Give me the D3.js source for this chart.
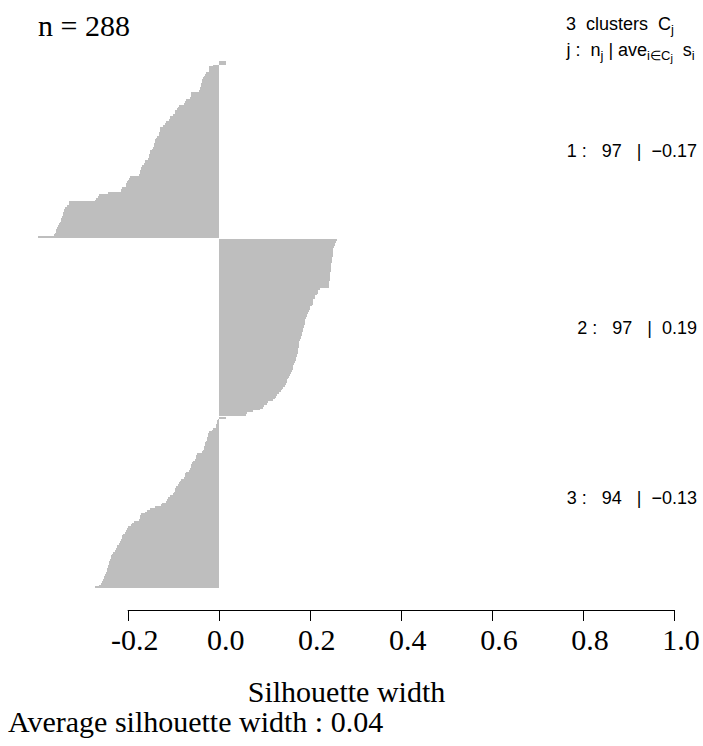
<!DOCTYPE html>
<html>
<head>
<meta charset="utf-8">
<script src="https://cdn.jsdelivr.net/npm/d3@7"></script>
<style>
  html, body { margin: 0; padding: 0; background: #fff; }
  svg { display: block; }
  text { white-space: pre; }
</style>
</head>
<body>
<script>
// ---------- data ----------
const clusterIds = [1, 2, 3];
const clusterAverages = ["\u22120.17", "0.19", "\u22120.13"];
const cluster1 = [0.017, 0.015, -0.012, -0.021, -0.021, -0.022, -0.028, -0.030, -0.032, -0.034,
  -0.036, -0.037, -0.040, -0.040, -0.041, -0.042, -0.043, -0.060, -0.061, -0.062,
  -0.063, -0.072, -0.074, -0.076, -0.088, -0.090, -0.092, -0.096, -0.097, -0.100,
  -0.106, -0.107, -0.109, -0.115, -0.118, -0.122, -0.128, -0.129, -0.130, -0.131,
  -0.132, -0.136, -0.138, -0.140, -0.141, -0.142, -0.143, -0.144, -0.146, -0.151,
  -0.152, -0.153, -0.154, -0.156, -0.162, -0.163, -0.165, -0.169, -0.170, -0.171,
  -0.172, -0.173, -0.175, -0.195, -0.197, -0.199, -0.202, -0.203, -0.204, -0.213,
  -0.214, -0.215, -0.243, -0.262, -0.265, -0.270, -0.272, -0.329, -0.330, -0.333,
  -0.338, -0.339, -0.341, -0.342, -0.343, -0.345, -0.346, -0.347, -0.348, -0.350,
  -0.353, -0.355, -0.357, -0.358, -0.360, -0.362, -0.397];
const cluster2 = [0.259, 0.257, 0.256, 0.255, 0.253, 0.252, 0.252, 0.251, 0.250, 0.250,
  0.249, 0.249, 0.248, 0.247, 0.247, 0.246, 0.246, 0.246, 0.245, 0.245,
  0.244, 0.244, 0.244, 0.243, 0.243, 0.242, 0.242, 0.222, 0.219, 0.218,
  0.215, 0.212, 0.211, 0.208, 0.207, 0.206, 0.204, 0.201, 0.200, 0.199,
  0.197, 0.194, 0.193, 0.192, 0.190, 0.190, 0.189, 0.188, 0.187, 0.186,
  0.184, 0.183, 0.182, 0.181, 0.180, 0.178, 0.177, 0.177, 0.176, 0.176,
  0.175, 0.174, 0.173, 0.172, 0.171, 0.170, 0.169, 0.167, 0.165, 0.164,
  0.163, 0.162, 0.160, 0.158, 0.156, 0.155, 0.153, 0.151, 0.150, 0.148,
  0.145, 0.142, 0.140, 0.137, 0.133, 0.128, 0.126, 0.124, 0.120, 0.109,
  0.105, 0.100, 0.097, 0.090, 0.075, 0.062, 0.060];
const cluster3 = [0.016, -0.002, -0.003, -0.004, -0.005, -0.006, -0.012, -0.014, -0.022, -0.023,
  -0.024, -0.025, -0.026, -0.027, -0.030, -0.031, -0.032, -0.033, -0.034, -0.036,
  -0.048, -0.050, -0.051, -0.053, -0.056, -0.058, -0.060, -0.062, -0.063, -0.065,
  -0.072, -0.074, -0.075, -0.077, -0.083, -0.085, -0.087, -0.089, -0.094, -0.096,
  -0.097, -0.099, -0.101, -0.108, -0.111, -0.113, -0.115, -0.124, -0.127, -0.140,
  -0.152, -0.158, -0.162, -0.170, -0.172, -0.174, -0.176, -0.186, -0.190, -0.193,
  -0.200, -0.201, -0.203, -0.206, -0.210, -0.212, -0.213, -0.214, -0.216, -0.220,
  -0.223, -0.224, -0.226, -0.228, -0.232, -0.234, -0.236, -0.237, -0.238, -0.240,
  -0.242, -0.243, -0.244, -0.245, -0.246, -0.248, -0.250, -0.251, -0.252, -0.254,
  -0.256, -0.258, -0.262, -0.272];
const xTicks = [-0.2, 0.0, 0.2, 0.4, 0.6, 0.8, 1.0];
const xTickLabels = ["-0.2", "0.0", "0.2", "0.4", "0.6", "0.8", "1.0"];
const nTotal = 288;
const avgWidthText = "0.04";

// ---------- layout ----------
const W = 703, H = 746;
const clusters = [cluster1, cluster2, cluster3];
const gap = 0.5;
const totalUnits = d3.sum(clusters, c => c.length) + gap * (clusters.length - 1);

const x = d3.scaleLinear().domain([-0.2, 1.0]).range([127.7, 674]);
const y = d3.scaleLinear().domain([0, totalUnits]).range([61, 588.3]);

const svg = d3.select("body").append("svg").attr("width", W).attr("height", H);

const serif = "'Liberation Serif', 'Times New Roman', Times, serif";
const sans = "'Liberation Sans', Arial, Helvetica, sans-serif";

// bars
const bars = [];
let offset = 0;
clusters.forEach((c, ci) => {
  c.forEach((v, i) => bars.push({ pos: offset + i, v, ci }));
  offset += c.length + gap;
});

svg.append("g")
  .attr("shape-rendering", "crispEdges")
  .selectAll("rect").data(bars).join("rect")
  .attr("x", d => x(Math.min(0, d.v)))
  .attr("width", d => Math.abs(x(d.v) - x(0)))
  .attr("y", d => y(d.pos))
  .attr("height", d => y(d.pos + 1) - y(d.pos))
  .attr("fill", "#bebebe");

// x axis
const axisY = 610;
const ax = svg.append("g").attr("transform", `translate(0,${axisY})`);
ax.append("line")
  .attr("x1", x(xTicks[0])).attr("x2", x(xTicks[xTicks.length - 1]))
  .attr("y1", 0.5).attr("y2", 0.5)
  .attr("stroke", "#000").attr("stroke-width", 1);
ax.selectAll("line.tick").data(xTicks).join("line")
  .attr("class", "tick")
  .attr("x1", d => Math.round(x(d)) + 0.5).attr("x2", d => Math.round(x(d)) + 0.5)
  .attr("y1", 0).attr("y2", 11)
  .attr("stroke", "#000").attr("stroke-width", 1);
ax.selectAll("text").data(xTicks).join("text")
  .attr("x", d => x(d) + 7)
  .attr("y", 40)
  .attr("text-anchor", "middle")
  .attr("font-family", serif).attr("font-size", 30)
  .text((d, i) => xTickLabels[i]);

// titles
svg.append("text").attr("x", 38).attr("y", 36)
  .attr("font-family", serif).attr("font-size", 30)
  .text(`n = ${nTotal}`);

svg.append("text").attr("x", 346.5).attr("y", 702)
  .attr("text-anchor", "middle")
  .attr("font-family", serif).attr("font-size", 30)
  .text("Silhouette width");

svg.append("text").attr("x", 8).attr("y", 732)
  .attr("font-family", serif).attr("font-size", 30)
  .text(`Average silhouette width : ${avgWidthText}`);

// header at right
const h1 = svg.append("text").attr("x", 566).attr("y", 30)
  .attr("font-family", sans).attr("font-size", 18);
h1.append("tspan").text(`${clusters.length}  clusters  C`);
h1.append("tspan").attr("font-size", 13).attr("dy", 4).text("j");

const h2 = svg.append("text").attr("x", 566.5).attr("y", 56)
  .attr("font-family", sans).attr("font-size", 18);
h2.append("tspan").text("j :  n");
h2.append("tspan").attr("font-size", 13).attr("dy", 4).text("j");
h2.append("tspan").attr("dy", -4).text(" | ave");
h2.append("tspan").attr("font-size", 13).attr("dy", 4).text("i\u2208C");
h2.append("tspan").attr("font-size", 11).attr("dy", 2).text("j");
h2.append("tspan").attr("dy", -6).text("  s");
h2.append("tspan").attr("font-size", 13).attr("dy", 4).text("i");

// cluster stats
const statBaselines = [157, 334, 504];
svg.selectAll("text.stat").data(clusterIds).join("text")
  .attr("class", "stat")
  .attr("x", 697)
  .attr("y", (d, i) => statBaselines[i])
  .attr("text-anchor", "end")
  .attr("font-family", sans).attr("font-size", 18)
  .text((d, i) => `${d} :   ${clusters[i].length}   |  ${clusterAverages[i]}`);
</script>
</body>
</html>
